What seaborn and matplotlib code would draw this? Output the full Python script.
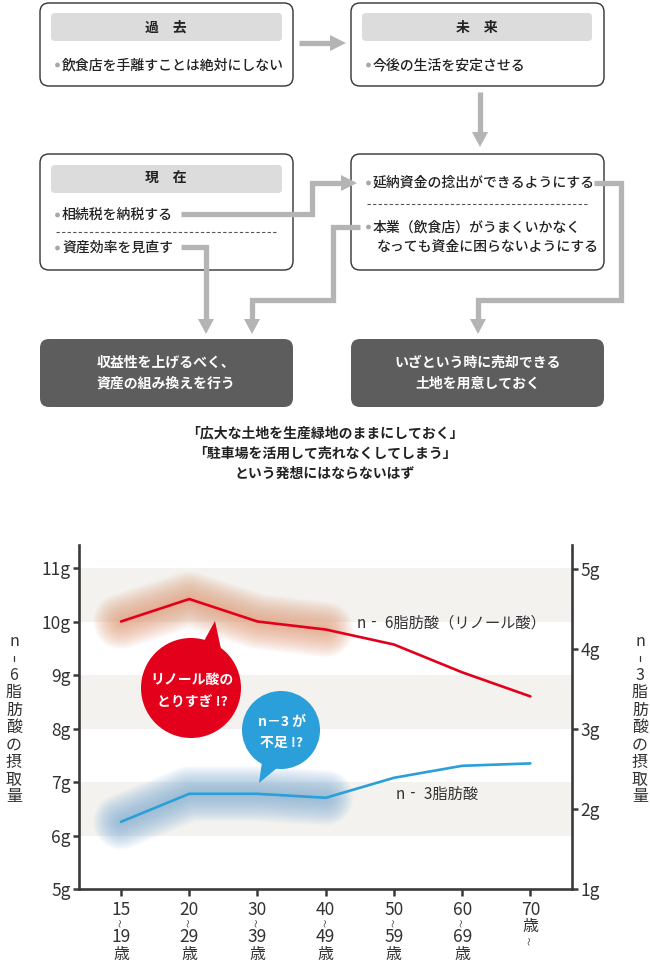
import numpy as np
import pandas as pd
import matplotlib
matplotlib.use("Agg")
import matplotlib.pyplot as plt
import seaborn as sns
from matplotlib.patches import FancyBboxPatch, Polygon, Circle

# ---- データ ----
ages = ["15-19", "20-29", "30-39", "40-49", "50-59", "60-69", "70-"]
age_top = ["15", "20", "30", "40", "50", "60", "70"]
age_bottom = ["19", "29", "39", "49", "59", "69", ""]
n6_values = [10.0, 10.42, 10.0, 9.85, 9.57, 9.05, 8.6]     # 左軸 (g)
n3_values = [1.84, 2.19, 2.19, 2.14, 2.39, 2.54, 2.57]      # 右軸 (g)
left_ticks = [5, 6, 7, 8, 9, 10, 11]
right_ticks = [1, 2, 3, 4, 5]
bands = [(10, 11), (8, 9), (6, 7)]
glow_n = 4   # 強調する区間 (15〜49歳)

RED = "#e2001a"
BLUE = "#2b9fd9"
DARK = "#333333"
ARROW = "#b4b4b4"

sns.set_style("white")
plt.rcParams["font.family"] = ["Noto Sans CJK JP", "DejaVu Sans"]

W, H = 650, 965
fig = plt.figure(figsize=(W / 100, H / 100), dpi=100)

# ---- グラフ部分 ----
y_bot, y_top = 889, 545
x_left, x_right = 79, 572
ax = fig.add_axes([x_left / W, (H - y_bot) / H, (x_right - x_left) / W, (y_bot - y_top) / H])
ax2 = ax.twinx()

xpos = np.arange(len(ages))
df = pd.DataFrame({"x": xpos, "n6": n6_values, "n3": n3_values})

for lo, hi in bands:
    ax.axhspan(lo, hi, color="#f3f2ef", lw=0, zorder=0)

# ぼかし (glow)
for lw in np.linspace(40, 4, 24):
    ax.plot(xpos[:glow_n], n6_values[:glow_n], color="#e49a74", alpha=0.045, lw=lw,
            solid_capstyle="round", solid_joinstyle="round", zorder=1)
    ax2.plot(xpos[:glow_n], n3_values[:glow_n], color="#7eaed6", alpha=0.045, lw=lw,
             solid_capstyle="round", solid_joinstyle="round", zorder=1)

sns.lineplot(data=df, x="x", y="n6", ax=ax, color=RED, lw=1.9, zorder=3)
sns.lineplot(data=df, x="x", y="n3", ax=ax2, color=BLUE, lw=1.9, zorder=3)

ax.set_xlim(-0.616, 6.61)
ax.set_ylim(5, 11.43)
ax2.set_ylim(1, 5.3)

ax.set_yticks(left_ticks)
ax.set_yticklabels([f"{v}g" for v in left_ticks])
ax2.set_yticks(right_ticks)
ax2.set_yticklabels([f"{v}g" for v in right_ticks])
ax.set_xticks(xpos)
ax.set_xticklabels([])
for a in (ax, ax2):
    a.set_xlabel("")
    a.set_ylabel("")
    for s in a.spines.values():
        s.set_visible(False)
ax.spines["left"].set_visible(True)
ax.spines["bottom"].set_visible(True)
ax2.spines["right"].set_visible(True)
for s in (ax.spines["left"], ax.spines["bottom"], ax2.spines["right"]):
    s.set_color("#3a3a3a")
    s.set_linewidth(1.9)
ax.tick_params(axis="y", left=True, length=4, width=1.8, color="#3a3a3a",
               labelsize=12.5, labelcolor=DARK, pad=2)
ax.tick_params(axis="x", bottom=True, length=5, width=1.8, color="#3a3a3a")
ax2.tick_params(axis="y", right=True, length=4, width=1.8, color="#3a3a3a",
                labelsize=12.5, labelcolor=DARK, pad=2)

# x軸ラベル (縦積み)
def fy(py):
    return (y_bot - py) / (y_bot - y_top)

xt = ax.get_xaxis_transform()
for i, (t, b) in enumerate(zip(age_top, age_bottom)):
    ax.text(i, fy(910), t, transform=xt, ha="center", va="center", fontsize=12.5, color=DARK)
    if b:
        ax.text(i, fy(923), "〜", transform=xt, ha="center", va="center", fontsize=6,
                color=DARK, rotation=90)
        ax.text(i, fy(937), b, transform=xt, ha="center", va="center", fontsize=12.5, color=DARK)
        ax.text(i, fy(954), "歳", transform=xt, ha="center", va="center", fontsize=11.5, color=DARK)
    else:
        ax.text(i, fy(927), "歳", transform=xt, ha="center", va="center", fontsize=11.5, color=DARK)
        ax.text(i, fy(941), "〜", transform=xt, ha="center", va="center", fontsize=6,
                color=DARK, rotation=90)

ax.text(357 / W, (H - 623) / H, "n‐ 6脂肪酸（リノール酸）", transform=fig.transFigure,
        fontsize=11, color=DARK, va="center", ha="left")
ax.text(396 / W, (H - 794) / H, "n‐ 3脂肪酸", transform=fig.transFigure,
        fontsize=11, color=DARK, va="center", ha="left")

# ---- 図解部分 (ピクセル座標) ----
ov = fig.add_axes([0, 0, 1, 1], zorder=10)
ov.set_xlim(0, W)
ov.set_ylim(H, 0)
ov.axis("off")
ov.patch.set_alpha(0)


def rbox(x0, y0, x1, y1, fc="white", ec="#333333", lw=1.0, r=9):
    ov.add_patch(FancyBboxPatch((x0, y0), x1 - x0, y1 - y0,
                                boxstyle=f"round,pad=0,rounding_size={r}",
                                fc=fc, ec=ec, lw=lw, zorder=2))


def bullet(x, y, s):
    ov.add_patch(Circle((x + 2.5, y), 2.4, fc="#a8a8a8", ec="none", zorder=5))
    ov.text(x + 7, y, s, color="#222222", fontsize=10, fontweight="medium",
            ha="left", va="center", zorder=5)


def arrow_path(pts, head):
    xs, ys = zip(*pts)
    ov.plot(xs, ys, color=ARROW, lw=3.8, solid_joinstyle="miter", solid_capstyle="butt", zorder=3)
    ov.add_patch(Polygon(head, closed=True, fc=ARROW, ec="none", zorder=3))


# 上段
rbox(40, 3, 293, 86)
rbox(51, 13, 282, 41, fc="#dcdcdc", ec="none", r=4)
ov.text(166, 28, "過　去", fontsize=10, fontweight="bold", ha="center", va="center", color="#222")
bullet(55, 65, "飲食店を手離すことは絶対にしない")

rbox(351, 3, 604, 86)
rbox(362, 13, 592, 41, fc="#dcdcdc", ec="none", r=4)
ov.text(477, 28, "未　来", fontsize=10, fontweight="bold", ha="center", va="center", color="#222")
bullet(366, 65, "今後の生活を安定させる")

# 中段
rbox(40, 154, 293, 270)
rbox(51, 165, 282, 193, fc="#dcdcdc", ec="none", r=4)
ov.text(166, 179, "現　在", fontsize=10, fontweight="bold", ha="center", va="center", color="#222")
bullet(55, 215, "相続税を納税する")
ov.plot([56, 277], [232, 232], color="#555555", lw=0.8, ls=(0, (3, 2)), zorder=4)
bullet(55, 248, "資産効率を見直す")

rbox(351, 154, 604, 270)
bullet(366, 183, "延納資金の捻出ができるようにする")
ov.plot([367, 588], [204, 204], color="#555555", lw=0.8, ls=(0, (3, 2)), zorder=4)
bullet(366, 227, "本業（飲食店）がうまくいかなく")
ov.text(377, 247, "なっても資金に困らないようにする", color="#222222", fontsize=10,
        fontweight="medium", ha="left", va="center", zorder=5)

# 矢印
arrow_path([(299, 43), (331, 43)], [(330, 35), (346, 43), (330, 51)])
arrow_path([(480, 92), (480, 133)], [(472, 132), (488, 132), (480, 147)])
arrow_path([(181, 214), (312, 214), (312, 183), (342, 183)], [(341, 175), (357, 183), (341, 191)])
arrow_path([(181, 247), (206, 247), (206, 320)], [(198, 319), (214, 319), (206, 334)])
arrow_path([(360, 227), (333, 227), (333, 300), (252, 300), (252, 320)],
           [(244, 319), (260, 319), (252, 334)])
arrow_path([(594, 183), (621, 183), (621, 300), (478, 300), (478, 320)],
           [(470, 319), (486, 319), (478, 334)])

# 下段 (濃い箱)
rbox(40, 339, 293, 407, fc="#5d5d5d", ec="none", r=9)
ov.text(166, 363, "収益性を上げるべく、", fontsize=10, fontweight="bold", color="white",
        ha="center", va="center", zorder=5)
ov.text(166, 384, "資産の組み換えを行う", fontsize=10, fontweight="bold", color="white",
        ha="center", va="center", zorder=5)
rbox(351, 339, 604, 407, fc="#5d5d5d", ec="none", r=9)
ov.text(478, 363, "いざという時に売却できる", fontsize=10, fontweight="bold", color="white",
        ha="center", va="center", zorder=5)
ov.text(478, 384, "土地を用意しておく", fontsize=10, fontweight="bold", color="white",
        ha="center", va="center", zorder=5)

for yy, s in zip([433, 454, 474], ["「広大な土地を生産緑地のままにしておく」",
                                    "「駐車場を活用して売れなくしてしまう」",
                                    "という発想にはならないはず"]):
    ov.text(325, yy, s, fontsize=10, fontweight="bold", color="#222", ha="center", va="center")

# 縦書きの軸ラベル
left_label = ["n", "6", "脂", "肪", "酸", "の", "摂", "取", "量"]
right_label = ["n", "3", "脂", "肪", "酸", "の", "摂", "取", "量"]
ys = [642, 675, 692, 710, 727, 745, 762, 780, 797]
for ch_l, ch_r, yy in zip(left_label, right_label, ys):
    ov.text(14, yy, ch_l, fontsize=11.5, color=DARK, ha="center", va="center")
    ov.text(640, yy, ch_r, fontsize=11.5, color=DARK, ha="center", va="center")
for xx in (14, 640):
    ov.plot([xx, xx], [656, 661], color=DARK, lw=0.9)

# 吹き出し
ov.add_patch(Polygon([(204, 641), (221, 649), (215, 621)], fc=RED, ec="none", zorder=6))
ov.add_patch(Circle((191, 688), 50, fc=RED, ec="none", zorder=6))
ov.text(192, 680, "リノール酸の", fontsize=10, fontweight="bold", color="white",
        ha="center", va="center", zorder=7)
ov.text(192, 702, "とりすぎ !?", fontsize=10, fontweight="bold", color="white",
        ha="center", va="center", zorder=7)

ov.add_patch(Polygon([(262, 762), (277, 768), (259, 783)], fc=BLUE, ec="none", zorder=6))
ov.add_patch(Circle((281, 730), 39, fc=BLUE, ec="none", zorder=6))
ov.text(282, 722, "n－3 が", fontsize=10, fontweight="bold", color="white",
        ha="center", va="center", zorder=7)
ov.text(282, 743, "不足 !?", fontsize=10, fontweight="bold", color="white",
        ha="center", va="center", zorder=7)

fig.savefig("out.png", dpi=100)
